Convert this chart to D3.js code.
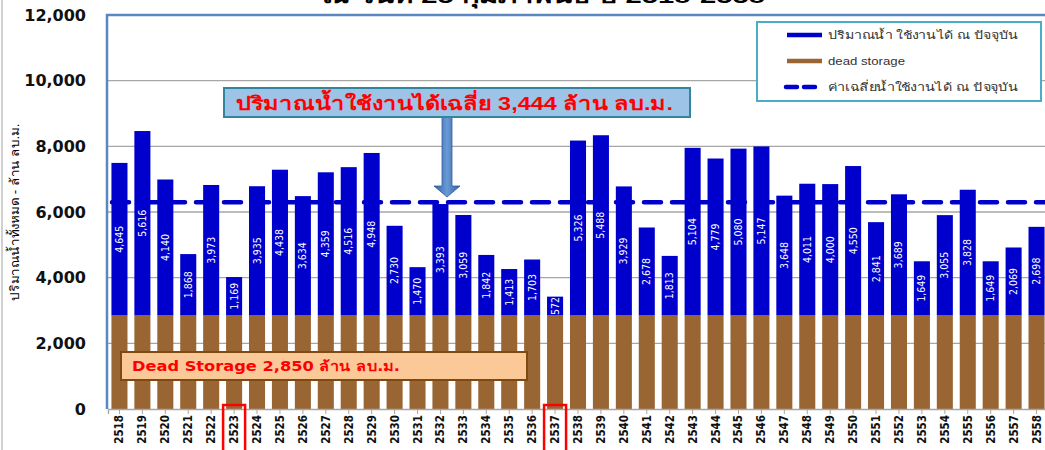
<!DOCTYPE html>
<html><head><meta charset="utf-8">
<script src="https://cdn.jsdelivr.net/npm/d3@7/dist/d3.min.js"></script>
<style>body{margin:0;background:#fff;} svg{display:block;}</style>
</head><body>
<svg id="c" width="1045" height="450"></svg>
<script>
const years = ["2518","2519","2520","2521","2522","2523","2524","2525","2526","2527","2528","2529","2530","2531","2532","2533","2534","2535","2536","2537","2538","2539","2540","2541","2542","2543","2544","2545","2546","2547","2548","2549","2550","2551","2552","2553","2554","2555","2556","2557","2558"];
const usable = [4645,5616,4140,1868,3973,1169,3935,4438,3634,4359,4516,4948,2730,1470,3393,3059,1842,1413,1703,572,5326,5488,3929,2678,1813,5104,4779,5080,5147,3648,4011,4000,4550,2841,3689,1649,3055,3828,1649,2069,2698];
const deadStorage = 2850;
const avgUsable = 3444;
const yTicks = [0,2000,4000,6000,8000,10000,12000];
const highlighted = ["2523","2537"];
const titleText = "ณ วันที่ 25 กุมภาพันธ์ ปี 2518-2558";
const legendLabels = ["ปริมาณน้ำ ใช้งานได้ ณ ปัจจุบัน","dead storage","ค่าเฉลี่ยน้ำใช้งานได้ ณ ปัจจุบัน"];
const legendWidths = [190, 77, 190];

const svg = d3.select("#c");
const L = 108, R = 1048, T = 15, B = 409;
const x = d3.scaleBand().domain(years).range([L, R]).paddingInner(0.3).paddingOuter(0.15);
const y = d3.scaleLinear().domain([0, 12000]).range([B, T]);
const BLUE = "#0000cc", BROWN = "#996633";

// faint left page line
svg.append("line").attr("x1",2).attr("x2",2).attr("y1",0).attr("y2",450).attr("stroke","#d0d0d0").attr("stroke-width",2);

// title (clipped at top)
svg.append("text").attr("x", 322).attr("y", 3)
  .attr("font-family","Liberation Sans, Arial, sans-serif").attr("font-weight","bold").attr("font-size",20)
  .attr("textLength",443).attr("lengthAdjust","spacingAndGlyphs")
  .attr("fill","#000").text(titleText);

// gridlines
svg.append("g").selectAll("line").data(yTicks.filter(d=>d>0 && d<12000)).join("line")
  .attr("x1", L).attr("x2", 1045).attr("y1", d=>y(d)).attr("y2", d=>y(d))
  .attr("stroke","#a6a6a6").attr("stroke-width",1.3);

// y axis labels
const yAxis = d3.axisLeft(y).tickValues(yTicks).tickFormat(d3.format(",")).tickSize(0).tickPadding(22);
const gy = svg.append("g").attr("transform",`translate(${L},0)`).call(yAxis);
gy.select(".domain").remove();
gy.selectAll("text").attr("font-family","DejaVu Sans, sans-serif").attr("font-weight","bold").attr("font-size",16).attr("fill","#111");

// bars: dead storage
svg.append("g").selectAll("rect").data(years).join("rect")
  .attr("x", d=>x(d)).attr("width", x.bandwidth())
  .attr("y", y(deadStorage)).attr("height", y(0)-y(deadStorage)).attr("fill", BROWN);
// bars: usable
svg.append("g").selectAll("rect").data(years).join("rect")
  .attr("x", d=>x(d)).attr("width", x.bandwidth())
  .attr("y", (d,i)=>y(deadStorage+usable[i])).attr("height", (d,i)=>y(deadStorage)-y(deadStorage+usable[i]))
  .attr("fill", BLUE);

// average dashed line
const avgY = y(deadStorage + avgUsable);
svg.append("line").attr("x1", L+4).attr("x2", 1045).attr("y1", avgY).attr("y2", avgY)
  .attr("stroke", BLUE).attr("stroke-width",4.5).attr("stroke-dasharray","17,11").attr("stroke-linecap","round");

// value labels
svg.append("g").selectAll("text").data(years).join("text")
  .attr("transform",(d,i)=>`translate(${x(d)+x.bandwidth()/2+3.5},${y(deadStorage+usable[i]/2)}) rotate(-90)`)
  .attr("text-anchor","middle")
  .attr("font-family","Liberation Sans Narrow, DejaVu Sans Condensed, sans-serif").attr("font-size",10.5)
  .attr("fill","#fff").text((d,i)=>d3.format(",")(usable[i]));

// x axis
const xAxis = d3.axisBottom(x).tickSize(5).tickPadding(4);
const gx = svg.append("g").attr("transform",`translate(0,${B})`).call(xAxis);
gx.select(".domain").attr("stroke","#a6a6a6").attr("stroke-width",1.3);
gx.selectAll(".tick line").attr("stroke","#a6a6a6");
gx.selectAll(".tick text")
  .attr("font-family","DejaVu Sans Condensed, DejaVu Sans, sans-serif").attr("font-weight","bold").attr("font-size",11.5).attr("fill","#111")
  .attr("transform","rotate(-90)").attr("text-anchor","end")
  .attr("x",-6).attr("y",4).attr("dx",null).attr("dy","0");

// red highlight rectangles
svg.append("g").selectAll("rect").data(highlighted).join("rect")
  .attr("x", d=>x(d)+x.bandwidth()/2-11).attr("y", 405).attr("width", 22).attr("height", 50)
  .attr("fill","none").attr("stroke","#ff0000").attr("stroke-width",2.5);

// plot frame (left and top)
svg.append("path").attr("d",`M${L-1},${B} L${L-1},${T} L1045,${T}`).attr("fill","none").attr("stroke","#5b87c1").attr("stroke-width",2.5);

// y axis title
svg.append("text").attr("transform","translate(19,212) rotate(-90)").attr("text-anchor","middle")
  .attr("font-family","Liberation Sans, sans-serif").attr("font-size",12.5).attr("fill","#000")
  .attr("textLength",177).attr("lengthAdjust","spacingAndGlyphs")
  .text("ปริมาณน้ำทั้งหมด - ล้าน ลบ.ม.");

// legend
const lg = svg.append("g");
lg.append("rect").attr("x",757).attr("y",22).attr("width",284).attr("height",79).attr("fill","#fff").attr("stroke","#4bacc6").attr("stroke-width",2);
const ly = [35, 61, 87];
lg.append("line").attr("x1",787).attr("x2",822).attr("y1",ly[0]).attr("y2",ly[0]).attr("stroke",BLUE).attr("stroke-width",4.5);
lg.append("line").attr("x1",787).attr("x2",822).attr("y1",ly[1]).attr("y2",ly[1]).attr("stroke",BROWN).attr("stroke-width",4.5);
lg.append("line").attr("x1",786).attr("x2",822).attr("y1",ly[2]).attr("y2",ly[2]).attr("stroke",BLUE).attr("stroke-width",4.5).attr("stroke-dasharray","11,7").attr("stroke-linecap","round");
lg.selectAll("text").data(legendLabels).join("text").attr("x",828).attr("y",(d,i)=>ly[i]+4)
  .attr("font-family","Liberation Sans, sans-serif").attr("font-size",11).attr("fill","#333")
  .attr("textLength",(d,i)=>legendWidths[i]).attr("lengthAdjust","spacingAndGlyphs").text(d=>d);

// average annotation box + arrow
const defs = svg.append("defs");
const gr = defs.append("linearGradient").attr("id","ag").attr("x1",0).attr("x2",1).attr("y1",0).attr("y2",0);
gr.append("stop").attr("offset","0%").attr("stop-color","#2f5f9e");
gr.append("stop").attr("offset","50%").attr("stop-color","#6a9ad6");
gr.append("stop").attr("offset","100%").attr("stop-color","#2f5f9e");
const ax = 447;
svg.append("path").attr("d",`M${ax-5},117 L${ax+5},117 L${ax+5},186 L${ax+13},186 L${ax},197 L${ax-13},186 L${ax-5},186 Z`)
  .attr("fill","url(#ag)").attr("stroke","#2f5f9e").attr("stroke-width",0.8);
svg.append("rect").attr("x",224).attr("y",88).attr("width",466).attr("height",29).attr("fill","#9dc3e6").attr("stroke","#31859c").attr("stroke-width",2);
svg.append("text").attr("x",236).attr("y",110).attr("font-family","Liberation Sans, sans-serif").attr("font-weight","bold").attr("font-size",19)
  .attr("textLength",437).attr("lengthAdjust","spacingAndGlyphs")
  .attr("fill","#ff0000").text(`ปริมาณน้ำใช้งานได้เฉลี่ย ${d3.format(",")(avgUsable)} ล้าน ลบ.ม.`);

// dead storage annotation box
svg.append("rect").attr("x",121).attr("y",352).attr("width",406).attr("height",28).attr("fill","#fbc898").attr("stroke","#7f4a12").attr("stroke-width",2);
svg.append("text").attr("x",132).attr("y",371).attr("font-family","DejaVu Sans, sans-serif").attr("font-weight","bold").attr("font-size",14)
  .attr("textLength",268).attr("lengthAdjust","spacingAndGlyphs")
  .attr("fill","#ff0000").text(`Dead Storage ${d3.format(",")(deadStorage)} ล้าน ลบ.ม.`);
</script>
</body></html>
